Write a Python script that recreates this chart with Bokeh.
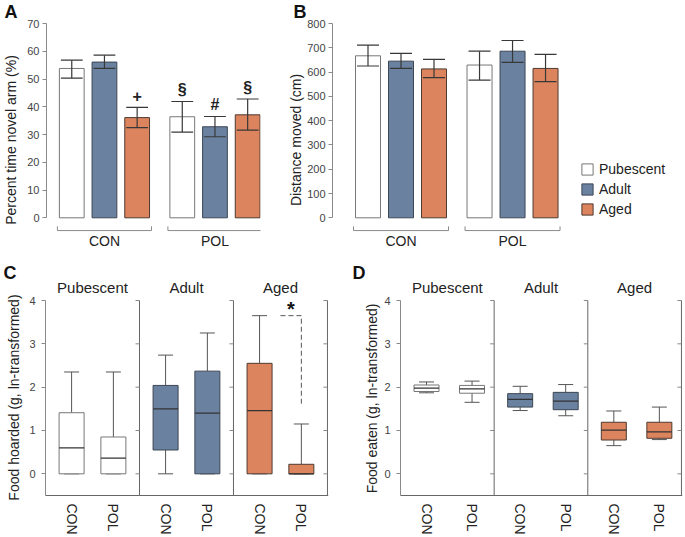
import math
from bokeh.plotting import figure
from bokeh.models import Range1d, FixedTicker, Legend, LegendItem, Title
from bokeh.layouts import row, column
from bokeh.embed import file_html
from bokeh.resources import INLINE
from bokeh.core.properties import value

FONT = "Liberation Sans"

ages = ["Pubescent", "Adult", "Aged"]
groups = ["CON", "POL"]
age_fill = ["#ffffff", "#6a82a0", "#dc845e"]
age_line = ["#777777", "#3c4654", "#4e3a30"]

# ---- Panel A: percent time novel arm (%), values are [CON, POL]
a_pub_mean = [53.8, 36.4]
a_pub_lo = [50.3, 30.9]
a_pub_hi = [56.8, 41.9]
a_adu_mean = [56.1, 32.8]
a_adu_lo = [53.8, 29.2]
a_adu_hi = [58.6, 36.5]
a_age_mean = [36.1, 37.1]
a_age_lo = [32.5, 31.6]
a_age_hi = [39.8, 42.8]
a_pub_marks = ["", "\u00a7"]
a_adu_marks = ["", "#"]
a_age_marks = ["+", "\u00a7"]

# ---- Panel B: distance moved (cm), values are [CON, POL]
b_pub_mean = [667, 629]
b_pub_lo = [625, 567]
b_pub_hi = [711, 686]
b_adu_mean = [645, 686]
b_adu_lo = [615, 640]
b_adu_hi = [677, 730]
b_age_mean = [613, 615]
b_age_lo = [577, 561]
b_age_hi = [652, 673]

# ---- Panel C: food hoarded (g, ln-transformed); box stats [CON, POL]
c_pub_lo = [0.0, 0.0]
c_pub_q1 = [0.0, 0.0]
c_pub_med = [0.60, 0.36]
c_pub_q3 = [1.41, 0.85]
c_pub_hi = [2.35, 2.35]
c_adu_lo = [0.0, 0.0]
c_adu_q1 = [0.55, 0.0]
c_adu_med = [1.50, 1.40]
c_adu_q3 = [2.04, 2.37]
c_adu_hi = [2.74, 3.25]
c_age_lo = [0.0, 0.0]
c_age_q1 = [0.0, 0.0]
c_age_med = [1.46, 0.0]
c_age_q3 = [2.55, 0.22]
c_age_hi = [3.65, 1.15]
c_sig_top = 3.65
c_sig_bottom = 1.62
c_sig_star_y = 3.81

# ---- Panel D: food eaten (g, ln-transformed); box stats [CON, POL]
d_pub_lo = [1.87, 1.65]
d_pub_q1 = [1.90, 1.86]
d_pub_med = [1.98, 1.96]
d_pub_q3 = [2.05, 2.04]
d_pub_hi = [2.12, 2.14]
d_adu_lo = [1.46, 1.34]
d_adu_q1 = [1.54, 1.48]
d_adu_med = [1.72, 1.68]
d_adu_q3 = [1.85, 1.88]
d_adu_hi = [2.02, 2.06]
d_age_lo = [0.65, 0.79]
d_age_q1 = [0.78, 0.82]
d_age_med = [1.01, 0.97]
d_age_q3 = [1.19, 1.19]
d_age_hi = [1.45, 1.54]


def style_y(ax, bounds, ticks, label_standoff, label=None, standoff=4):
    ax.bounds = bounds
    ax.ticker = FixedTicker(ticks=ticks)
    if label is not None:
        ax.axis_label = label
        ax.axis_label_text_font = FONT
        ax.axis_label_text_font_size = "14px"
        ax.axis_label_text_font_style = "normal"
        ax.axis_label_text_color = "#222222"
        ax.axis_label_standoff = standoff
    ax.major_label_text_font = FONT
    ax.major_label_text_font_size = "11px"
    ax.major_label_text_color = "#444444"
    ax.major_label_standoff = label_standoff
    ax.axis_line_color = "#8a8a8a"
    ax.major_tick_line_color = "#8a8a8a"
    ax.major_tick_in = 0
    ax.major_tick_out = 4
    ax.minor_tick_line_color = None


def letter_title(p, letter, offset):
    p.add_layout(Title(text=letter, align="left", offset=offset, vertical_align="top",
                       standoff=0, text_font=FONT, text_font_size="18px",
                       text_font_style="bold", text_color="#111111"), "above")


GAP = 3.38
TOP_H = 258
TOP_BORDER_TOP = 23
TOP_BORDER_BOTTOM = 2
PPU_Y_A = 194.3 / 70.0


def bar_panel(width, border_left, ppu, first_px, ymax, ystep, ylabel, standoff,
              means, los, his, marks=None):
    s = ymax / 70.0
    frame_w = width - border_left - 2
    x0 = 1 - first_px / ppu
    frame_h = TOP_H - TOP_BORDER_TOP - TOP_BORDER_BOTTOM
    y_end = 70.0
    y_start = y_end - frame_h / PPU_Y_A
    p = figure(width=width, height=TOP_H, output_backend="svg", toolbar_location=None,
               x_range=Range1d(x0, x0 + frame_w / ppu),
               y_range=Range1d(y_start * s, y_end * s),
               x_axis_location=None, min_border_left=border_left, min_border_right=2,
               min_border_top=TOP_BORDER_TOP, min_border_bottom=TOP_BORDER_BOTTOM)
    p.outline_line_color = None
    p.xgrid.visible = False
    p.ygrid.visible = False
    style_y(p.yaxis[0], (0, ymax), list(range(0, ymax + 1, ystep)), 3, ylabel, standoff)
    rends = []
    for k in range(len(ages)):
        xs = [1 + k + g * GAP for g in range(len(groups))]
        r = p.vbar(x=xs, top=means[k], bottom=0, width=25 / ppu,
                   fill_color=age_fill[k], line_color=age_line[k], line_width=1)
        rends.append(r)
        cw = 11 / ppu
        p.segment(x0=xs, y0=los[k], x1=xs, y1=his[k], line_color="#383838", line_width=1.2)
        p.segment(x0=[x - cw for x in xs], y0=his[k], x1=[x + cw for x in xs], y1=his[k],
                  line_color="#383838", line_width=1.2)
        p.segment(x0=[x - cw for x in xs], y0=los[k], x1=[x + cw for x in xs], y1=los[k],
                  line_color="#383838", line_width=1.2)
        if marks is not None:
            p.text(x=xs, y=[h + 4.2 * s for h in his[k]], text=marks[k],
                   text_font=value(FONT), text_font_size="16px", text_font_style="bold",
                   text_align="center", text_baseline="middle", text_color="#222222")
    for g, grp in enumerate(groups):
        xa = 1 + g * GAP - 14.5 / ppu * 1.0 - 0.0
        xb = 3 + g * GAP + 14.5 / ppu
        p.line(x=[xa, xa, xb, xb], y=[-3.1 * s, -4.6 * s, -4.6 * s, -3.1 * s],
               line_color="#8a8a8a", line_width=1)
        p.text(x=[(xa + xb) / 2], y=[-8.2 * s], text=[grp], text_font=value(FONT),
               text_font_size="14px", text_align="center", text_baseline="middle",
               text_color="#222222")
    return p, rends


FACET = 18
XEND = 54.2
BOT_H = 278
PPU_Y_C = 43.33
Y4_PX = 42      # pixel row of value 4 inside the bottom figures
LETTER_PX = 4   # pixel row of the panel letter top inside the bottom figures


def box_panel(width, axis_px, pos, ylabel, label_px, label_y, lo, q1, med, q3, hi,
              letter, letter_px):
    frame_w = width - 2
    ppu = (frame_w - axis_px) / XEND
    x_start = -axis_px / ppu
    y_end = 4 + Y4_PX / PPU_Y_C
    y_start = y_end - BOT_H / PPU_Y_C
    p = figure(width=width, height=BOT_H, output_backend="svg", toolbar_location=None,
               x_range=Range1d(x_start, XEND), y_range=Range1d(y_start, y_end),
               min_border_left=0, min_border_right=2,
               min_border_top=0, min_border_bottom=0)
    p.outline_line_color = None
    p.xgrid.visible = False
    p.ygrid.visible = False
    yax = p.yaxis[0]
    style_y(yax, (-0.5, 4), [0, 1, 2, 3, 4], 6)
    yax.fixed_location = 0
    xa = p.xaxis[0]
    xa.fixed_location = -0.5
    xa.bounds = (0, XEND)
    ticks = []
    overrides = {}
    for k in range(len(ages)):
        for g in range(len(groups)):
            t = k * FACET + pos[g]
            ticks.append(t)
            overrides[t] = groups[g]
    xa.ticker = FixedTicker(ticks=ticks)
    xa.major_label_overrides = overrides
    xa.major_label_orientation = "vertical"
    xa.major_tick_line_color = None
    xa.major_tick_in = 0
    xa.major_tick_out = 0
    xa.minor_tick_line_color = None
    xa.axis_line_color = "#666666"
    xa.major_label_text_font = FONT
    xa.major_label_text_font_size = "14px"
    xa.major_label_text_color = "#222222"
    xa.major_label_standoff = 8
    # y axis title, rotated
    p.text(x=[-label_px / ppu], y=[label_y], text=[ylabel], angle=math.pi / 2,
           text_font=value(FONT), text_font_size="14px", text_align="center",
           text_baseline="middle", text_color="#222222")
    # panel letter
    p.text(x=[-letter_px / ppu], y=[y_end - LETTER_PX / PPU_Y_C], text=[letter],
           text_font=value(FONT), text_font_size="18px", text_font_style="bold",
           text_align="left", text_baseline="top", text_color="#111111")
    tl = 4 / ppu
    for k in range(1, len(ages) + 1):
        d = k * FACET
        p.segment(x0=[d], y0=[-0.5], x1=[d], y1=[4], line_color="#666666", line_width=1)
        p.segment(x0=[d - tl] * 5, y0=[0, 1, 2, 3, 4], x1=[d] * 5, y1=[0, 1, 2, 3, 4],
                  line_color="#888888", line_width=1)
    bw = 25 / ppu
    cw = 7.5 / ppu
    for k in range(len(ages)):
        xs = [k * FACET + pos[g] for g in range(len(groups))]
        p.segment(x0=xs, y0=q3[k], x1=xs, y1=hi[k], line_color="#555555", line_width=1)
        p.segment(x0=xs, y0=lo[k], x1=xs, y1=q1[k], line_color="#555555", line_width=1)
        p.segment(x0=[x - cw for x in xs], y0=hi[k], x1=[x + cw for x in xs], y1=hi[k],
                  line_color="#555555", line_width=1)
        p.segment(x0=[x - cw for x in xs], y0=lo[k], x1=[x + cw for x in xs], y1=lo[k],
                  line_color="#555555", line_width=1)
        p.vbar(x=xs, bottom=q1[k], top=q3[k], width=bw, fill_color=age_fill[k],
               line_color=age_line[k], line_width=1)
        p.segment(x0=[x - bw / 2 for x in xs], y0=med[k], x1=[x + bw / 2 for x in xs],
                  y1=med[k], line_color="#333333", line_width=1.3)
        p.text(x=[k * FACET + FACET / 2], y=[4.3], text=[ages[k]], text_font=value(FONT),
               text_font_size="15px", text_align="center", text_baseline="middle",
               text_color="#222222")
    return p


pA, _ = bar_panel(262, 44, 33.0, 25.5, 70, 10, "Percent time novel arm (%)", 5,
                  [a_pub_mean, a_adu_mean, a_age_mean],
                  [a_pub_lo, a_adu_lo, a_age_lo],
                  [a_pub_hi, a_adu_hi, a_age_hi],
                  [a_pub_marks, a_adu_marks, a_age_marks])
letter_title(pA, "A", -42)

pB, rB = bar_panel(422, 70, 33.0, 35.5, 800, 100, "Distance moved (cm)", 0,
                   [b_pub_mean, b_adu_mean, b_age_mean],
                   [b_pub_lo, b_adu_lo, b_age_lo],
                   [b_pub_hi, b_adu_hi, b_age_hi])
letter_title(pB, "B", -39)
legend = Legend(items=[LegendItem(label=value(a), renderers=[r]) for a, r in zip(ages, rB)],
                location=(248, 39), orientation="vertical",
                border_line_color=None, background_fill_alpha=0, padding=0, margin=0,
                spacing=4, glyph_width=14, glyph_height=14, label_height=14,
                label_text_font=FONT, label_text_font_size="14px", label_standoff=5,
                label_text_color="#222222")
pB.add_layout(legend)

pC = box_panel(330, 45, [5, 13.0], "Food hoarded (g, ln-transformed)", 32, 1.76,
               [c_pub_lo, c_adu_lo, c_age_lo], [c_pub_q1, c_adu_q1, c_age_q1],
               [c_pub_med, c_adu_med, c_age_med], [c_pub_q3, c_adu_q3, c_age_q3],
               [c_pub_hi, c_adu_hi, c_age_hi], "C", 42)
# significance bracket between aged CON and aged POL
sig_con = 2 * FACET + 5
sig_pol = 2 * FACET + 13.0
sig_mid = (sig_con + sig_pol) / 2
pC.line(x=[sig_mid, sig_pol, sig_pol], y=[c_sig_top, c_sig_top, c_sig_bottom],
        line_color="#555555", line_width=1, line_dash="5 3")
pC.text(x=[(sig_mid + sig_pol) / 2], y=[c_sig_star_y], text=["*"], text_font=value(FONT),
        text_font_size="20px", text_font_style="bold", text_align="center",
        text_baseline="middle", text_color="#111111")

pD = box_panel(354, 70, [5, 13.75], "Food eaten (g, ln-transformed)", 29, 1.74,
               [d_pub_lo, d_adu_lo, d_age_lo], [d_pub_q1, d_adu_q1, d_age_q1],
               [d_pub_med, d_adu_med, d_age_med], [d_pub_q3, d_adu_q3, d_age_q3],
               [d_pub_hi, d_adu_hi, d_age_hi], "D", 48)

layout = column(row(pA, pB), row(pC, pD))
open("out.html", "w").write(file_html(layout, INLINE))
